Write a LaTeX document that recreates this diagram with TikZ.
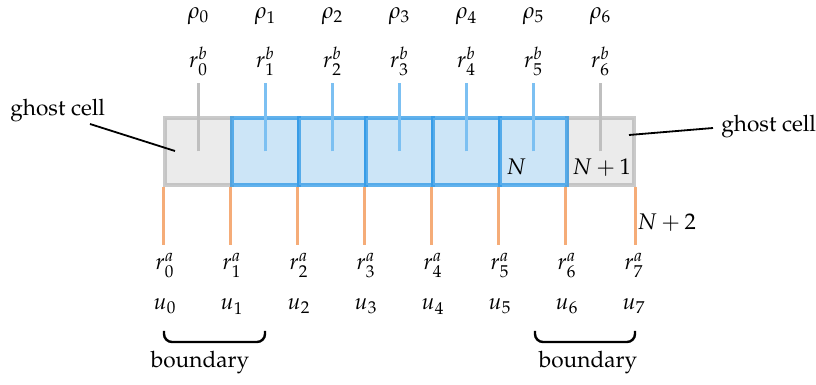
\documentclass[tikz,border=0pt]{standalone}
\usepackage[T1]{fontenc}
\usepackage{mathpazo}
\definecolor{bluefill}{HTML}{CCE5F7}
\definecolor{bluestroke}{HTML}{2E98E6}
\definecolor{bluetick}{HTML}{7CC0F2}
\definecolor{grayfill}{HTML}{EBEBEB}
\definecolor{graystroke}{HTML}{B8B8B8}
\definecolor{orangetick}{HTML}{F5AC78}
\tikzset{
  bluecell/.style={rectangle, draw=bluestroke, draw opacity=0.75, fill=bluefill, line width=1.7pt, minimum width=33.5pt, minimum height=33.5pt, inner sep=0pt},
  ghostcell/.style={rectangle, draw=graystroke, draw opacity=0.75, fill=grayfill, line width=1.7pt, minimum width=33.5pt, minimum height=33.5pt, inner sep=0pt},
  toptick/.style={line width=1.6pt, bluetick},
  toptickg/.style={line width=1.6pt, graystroke!90},
  bottick/.style={line width=1.6pt, orangetick},
  lbl/.style={anchor=base, inner sep=0pt},
  brace/.style={line width=1.2pt, rounded corners=4pt},
  callout/.style={line width=0.9pt, black}
}
\begin{document}
\begin{tikzpicture}[x=0.5pt, y=-0.5pt, font=\fontsize{11.3}{13.5}\selectfont]
\useasboundingbox (0,0) rectangle (816,385);
% ghost cells first, then the blue cells over their shared edges
\node[ghostcell] (c0) at (198.5,151.5) {};
\node[ghostcell] (c6) at (600.5,151.5) {};
\foreach \i in {1,...,5} {
  \node[bluecell] (c\i) at (198.5+67*\i,151.5) {};
}
% top ticks
\draw[toptickg] (c0.center) -- ++(0,-68);
\foreach \i in {1,...,5} { \draw[toptick] (c\i.center) -- ++(0,-68); }
\draw[toptickg] (c6.center) -- ++(0,-68);
% bottom ticks
\foreach \i in {0,...,6} { \draw[bottick] (c\i.south west) -- ++(0,58); }
\draw[bottick] (c6.south east) -- ++(0,58);
% top labels
\foreach \i in {0,...,6} {
  \node[lbl] (rho\i) at (198.5+67*\i,19) {$\rho_{\i}$};
  \node[lbl] (rb\i) at (198.5+67*\i,68) {$r^b_{\i}$};
}
% bottom labels
\foreach \i in {0,...,7} {
  \node[lbl] (ra\i) at (165+67*\i,270) {$r^a_{\i}$};
  \node[lbl] (u\i) at (165+67*\i,310) {$u_{\i}$};
}
% cell index labels
\node[anchor=base west, inner sep=0pt] (nN) at (506,175) {$N$};
\node[anchor=base west, inner sep=0pt] (nN1) at (572,175) {$N+1$};
\node[anchor=base west, inner sep=0pt] (nN2) at (637,230) {$N+2$};
% ghost cell callouts
\node[anchor=base west, inner sep=0pt] (gl) at (10,116) {ghost cell};
\node[anchor=base west, inner sep=0pt] (gr) at (721,132) {ghost cell};
\coordinate (glA) at (90,124);
\coordinate (glB) at (175,151);
\coordinate (grA) at (713,128);
\coordinate (grB) at (629,135);
\draw[callout] (glA) -- (glB);
\draw[callout] (grA) -- (grB);
% braces
\coordinate (bl1) at (164,331);
\coordinate (bl2) at (265,331);
\coordinate (br1) at (535,331);
\coordinate (br2) at (635,331);
\draw[brace] (bl1) -- ++(0,11) -| (bl2);
\draw[brace] (br1) -- ++(0,11) -| (br2);
\node[lbl] (bdl) at (200,368) {boundary};
\node[lbl] (bdr) at (588,368) {boundary};
\end{tikzpicture}
\end{document}
